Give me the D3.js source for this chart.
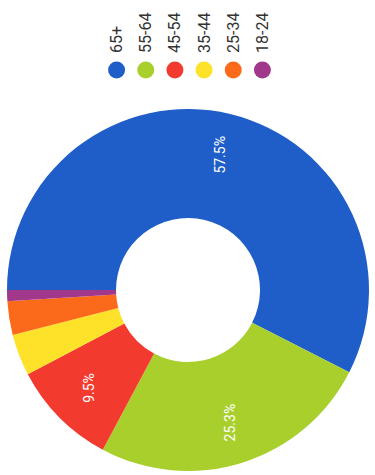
<!DOCTYPE html>
<html>
<head>
<meta charset="utf-8">
<script src="https://cdn.jsdelivr.net/npm/d3@7"></script>
<style>
  body { margin: 0; background: #fff; }
  svg { display: block; font-family: Roboto, "Noto Sans", sans-serif; }
</style>
</head>
<body>
<div id="chart"></div>
<script>
// age groups, share of respondents (%)
var categories = ["65+", "55-64", "45-54", "35-44", "25-34", "18-24"];
var values = [57.5, 25.3, 9.5, 3.7, 3.0, 1.0];
var labels = ["57.5%", "25.3%", "9.5%", "", "", ""];
var colors = ["#1f5ec8", "#a9cf2d", "#f23a2f", "#fde229", "#fb6a1a", "#a2388b"];

var width = 375, height = 475;
var cx = 188, cy = 290, outerR = 181, innerR = 72;

var svg = d3.select("#chart").append("svg")
  .attr("width", width)
  .attr("height", height);

var data = categories.map(function(c, i) {
  return { cat: c, value: values[i], label: labels[i], color: colors[i] };
});

// the whole chart is shown turned a quarter turn anticlockwise
var pie = d3.pie().sort(null).value(function(d) { return d.value; })
  .startAngle(-Math.PI / 2).endAngle(Math.PI * 1.5);
var arc = d3.arc().innerRadius(innerR).outerRadius(outerR);
var labelArc = d3.arc().innerRadius(139).outerRadius(139);

var g = svg.append("g").attr("transform", "translate(" + cx + "," + cy + ")");

g.selectAll("path.slice").data(pie(data)).enter()
  .append("path")
  .attr("class", "slice")
  .attr("d", arc)
  .attr("fill", function(d) { return d.data.color; });

g.selectAll("text.pct").data(pie(data).filter(function(d) { return d.data.label; })).enter()
  .append("text")
  .attr("class", "pct")
  .attr("transform", function(d) {
    var p = labelArc.centroid(d);
    return "translate(" + p[0] + "," + p[1] + ") rotate(-90)";
  })
  .attr("text-anchor", "middle")
  .attr("dominant-baseline", "central")
  .attr("fill", "#fff")
  .style("font-size", "14px")
  .text(function(d) { return d.data.label; });

/* legend */
var legendX = d3.scaleBand().domain(categories).range([102, 277]).padding(0);

var legend = svg.selectAll("g.legend").data(data).enter()
  .append("g")
  .attr("class", "legend")
  .attr("transform", function(d) {
    return "translate(" + (legendX(d.cat) + legendX.bandwidth() / 2) + ",0)";
  });

legend.append("circle")
  .attr("cy", 70)
  .attr("r", 8.5)
  .attr("fill", function(d) { return d.color; });

legend.append("text")
  .attr("transform", "translate(0,53) rotate(-90)")
  .attr("dominant-baseline", "central")
  .attr("fill", "#333")
  .style("font-size", "16px")
  .text(function(d) { return d.cat; });
</script>
</body>
</html>
